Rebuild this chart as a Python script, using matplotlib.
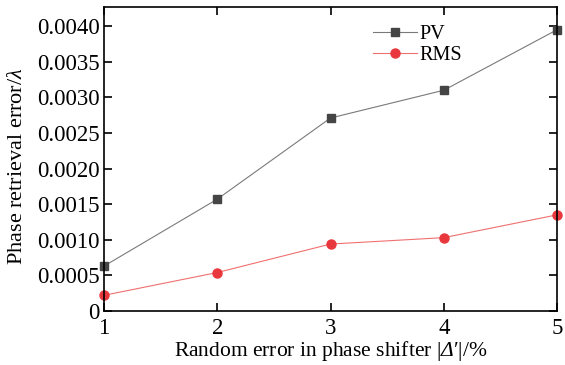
import matplotlib.pyplot as plt

plt.rcParams['font.family'] = ['Liberation Serif', 'DejaVu Serif']
plt.rcParams['mathtext.fontset'] = 'custom'
plt.rcParams['mathtext.rm'] = 'Liberation Serif'
plt.rcParams['mathtext.it'] = 'Liberation Serif:italic'
# mathit forces Greek capitals upright, so use sf as an italic slot
plt.rcParams['mathtext.sf'] = 'Liberation Serif:italic'

# data
shift_err = [1, 2, 3, 4, 5]
pv = [0.00063, 0.00157, 0.00271, 0.00310, 0.00395]
rms = [0.00022, 0.00054, 0.00094, 0.00103, 0.00135]
yticks = [0, 0.0005, 0.0010, 0.0015, 0.0020, 0.0025, 0.0030, 0.0035, 0.0040]
ytick_labels = ['0', '0.0005', '0.0010', '0.0015', '0.0020', '0.0025',
                '0.0030', '0.0035', '0.0040']

fig = plt.figure(figsize=(5.65, 3.65), dpi=100)
ax = fig.add_axes([0.184, 0.148, 0.802, 0.833])

ax.plot(shift_err, pv, color='#7a7a7a', lw=0.8, marker='s', ms=6,
        mfc='#454545', mec='#454545', label='PV', clip_on=False)
ax.plot(shift_err, rms, color='#f07070', lw=0.8, marker='o', ms=6.5,
        mfc='#e8383d', mec='#e8383d', label='RMS', clip_on=False)

ax.set_xlim(1, 5)
ax.set_ylim(0, 0.00427)
ax.set_xticks(shift_err)
ax.set_yticks(yticks)
ax.set_yticklabels(ytick_labels)
ax.tick_params(direction='in', top=True, right=True, labelsize=16.5,
               width=1.2, length=6)
ax.tick_params(axis='x', pad=5)
ax.tick_params(axis='y', pad=3)
for s in ax.spines.values():
    s.set_linewidth(1.2)

ax.set_xlabel("Random error in phase shifter |$\\mathsf{Δ}$′|/%", fontsize=15.5, labelpad=0)
ax.set_ylabel("Phase retrieval error/$\\mathit{λ}$", fontsize=16)
ax.yaxis.set_label_coords(-0.17, 0.477)

ax.legend(loc='upper left', bbox_to_anchor=(0.553, 1.0), frameon=False,
          fontsize=14.5, handlelength=2.2, handletextpad=0.1, labelspacing=0.08)

fig.savefig('out.png', dpi=100)
